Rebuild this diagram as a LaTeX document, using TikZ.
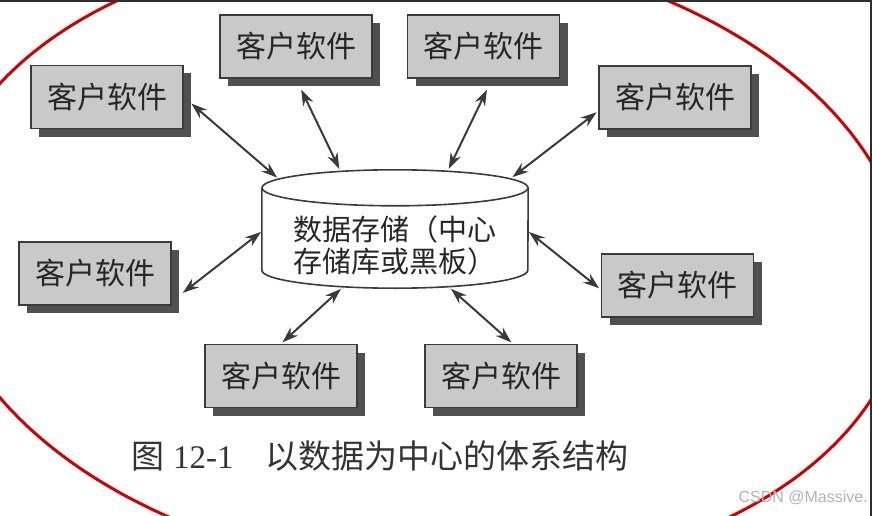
\documentclass[tikz,border=0pt]{standalone}
\usepackage{fontspec}
\setmainfont{Noto Sans CJK SC}
\newfontfamily\numfont{Liberation Serif}
\newfontfamily\markfont{Liberation Sans}
\usetikzlibrary{arrows.meta,shadows}

\definecolor{boxgray}{HTML}{C9C9C9}
\definecolor{shadegray}{HTML}{505050}
\definecolor{linegray}{HTML}{3A3A3A}
\definecolor{ringred}{HTML}{D40000}
\definecolor{framegray}{HTML}{2E2E2E}

\begin{document}
\begin{tikzpicture}[x=1pt, y=-1pt,
  client/.style={rectangle, draw=linegray, line width=1.6pt, fill=boxgray,
    minimum width=152pt, minimum height=63pt, inner sep=0pt, text=black!85,
    font=\fontsize{30pt}{30pt}\selectfont,
    drop shadow={shadow xshift=8pt, shadow yshift=-8pt, fill=shadegray, opacity=1}},
  link/.style={{Stealth[length=16pt,width=11pt]}-{Stealth[length=16pt,width=11pt]},
    line width=2pt, draw=linegray, shorten <=2pt, shorten >=1pt},
  cyl/.style={line width=1.6pt, draw=linegray}]

\useasboundingbox (0,0) rectangle (872,516);
\clip (0,0) rectangle (872,516);

% red ring round the whole figure
\draw[ringred, line width=3pt] plot[domain=0:356, samples=90, smooth cycle]
  ({421+485*cos(\x)+34.65*sin(\x)}, {260+315*sin(\x)});

% screenshot frame
\draw[framegray, line width=2pt] (0,1) -- (871,1) -- (871,516);

\node[client] (c1) at (107,97) {客户软件};
\node[client] (c2) at (296,46.5) {客户软件};
\node[client] (c3) at (483.5,46.5) {客户软件};
\node[client] (c4) at (675,97.5) {客户软件};
\node[client] (c5) at (95,273.5) {客户软件};
\node[client] (c6) at (677.5,285.5) {客户软件};
\node[client] (c7) at (281,376) {客户软件};
\node[client] (c8) at (501,376) {客户软件};

% data store cylinder
\node[minimum width=266pt, minimum height=118pt, inner sep=0pt] (store) at (395,229) {};
\draw[cyl] ([yshift=-18pt]store.north west) -- ([yshift=18pt]store.south west)
  arc[start angle=180, end angle=360, x radius=133pt, y radius=18pt]
  -- ([yshift=-18pt]store.north east);
\draw[cyl] ([yshift=-18pt]store.north) ellipse[x radius=133pt, y radius=18pt];
\node[align=center, inner sep=0pt, text=black!85, font=\fontsize{29pt}{32pt}\selectfont]
  (storetext) at (395,245) {数据存储（中心\\存储库或黑板）};

\draw[link, shorten <=10pt, shorten >=-12pt] (c1.east) -- (store.155);
\draw[link, shorten <=12pt] (c2.south) -- (store.133);
\draw[link, shorten <=12pt] (c3.-75) -- (store.48);
\draw[link, shorten >=-12pt] (c4.190) -- (store.25);
\draw[link, shorten <=14pt] (c5.-20) -- (store.181);
\draw[link] (c6.183) -- (store.-1);
\draw[link] (c7.north) -- (store.228);
\draw[link] (c8.70) -- (store.313);

\node[anchor=west, inner sep=0pt, text=black!80, font=\fontsize{33pt}{33pt}\selectfont]
  (caption) at (131,456) {图\kern9pt{\numfont 12-1}\hspace{32pt}以数据为中心的体系结构};

\node[anchor=east, inner sep=0pt, text=black!30, font=\markfont\fontsize{16pt}{16pt}\selectfont]
  (mark) at (868,498) {CSDN @Massive.};

\end{tikzpicture}
\end{document}
